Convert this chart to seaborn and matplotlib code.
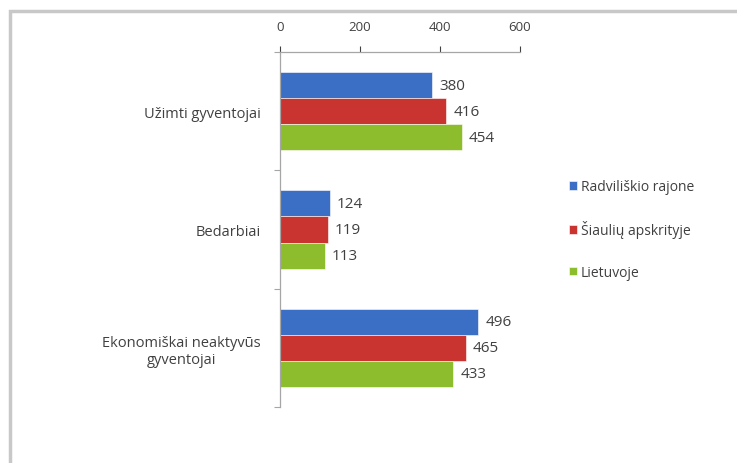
import pandas as pd
import numpy as np
import matplotlib.pyplot as plt
import seaborn as sns
from matplotlib.patches import Rectangle

categories = ["Užimti gyventojai", "Bedarbiai", "Ekonomiškai neaktyvūs\ngyventojai"]
series = ["Radviliškio rajone", "Šiaulių apskrityje", "Lietuvoje"]
radviliskio = [380, 124, 496]
siauliu = [416, 119, 465]
lietuvoje = [454, 113, 433]
x_ticks = [0, 200, 400, 600]

data = pd.DataFrame({
    "kategorija": categories * 3,
    "serija": [series[0]] * 3 + [series[1]] * 3 + [series[2]] * 3,
    "reiksme": radviliskio + siauliu + lietuvoje,
})

colors = ["#3b6fc6", "#c93330", "#8dbd2c"]
text_color = "#404040"

sns.set_style("white")
plt.rcParams["font.family"] = ["Open Sans", "DejaVu Sans"]

fig = plt.figure(figsize=(7.37, 4.64), dpi=100)
ax = fig.add_axes([280 / 737, 1 - 408 / 464, 240 / 737, 355 / 464])

sns.barplot(data=data, y="kategorija", x="reiksme", hue="serija", orient="h",
            palette=colors, width=0.66, ax=ax, saturation=1,
            edgecolor="white", linewidth=0.4)

for container in ax.containers:
    ax.bar_label(container, padding=5, fontsize=11, color=text_color)

ax.set_xlim(0, 600)
ax.set_ylim(2.5, -0.5)
ax.set_xticks(x_ticks)
ax.xaxis.tick_top()
ax.tick_params(axis="x", colors=text_color, labelsize=9.5, length=4, width=0.8, direction="out", pad=10)
ax.tick_params(axis="y", colors=text_color, labelsize=10.5, length=0, pad=14)
ax.set_yticks([-0.5, 0.5, 1.5, 2.5], minor=True)
ax.tick_params(axis="y", which="minor", left=True, length=4, width=0.8, color="#a6a6a6")
ax.set_xlabel("")
ax.set_ylabel("")
for lab in ax.get_yticklabels():
    lab.set_multialignment("center")

for side in ["right", "bottom"]:
    ax.spines[side].set_visible(False)
for side in ["top", "left"]:
    ax.spines[side].set_color("#a6a6a6")
    ax.spines[side].set_linewidth(0.9)

leg = ax.legend(loc="center left", bbox_to_anchor=(1.15, 0.5), frameon=False,
                fontsize=10, labelspacing=1.9, handlelength=0.6, handleheight=0.6,
                handletextpad=0.3, labelcolor=text_color)

# chart border
fig.patches.append(Rectangle((10 / 737, -0.05), 1.2, 1 - 12 / 464 + 0.05,
                             transform=fig.transFigure, fill=False,
                             edgecolor="#c8c8c8", linewidth=2.5))

fig.savefig("out.png", dpi=100)
